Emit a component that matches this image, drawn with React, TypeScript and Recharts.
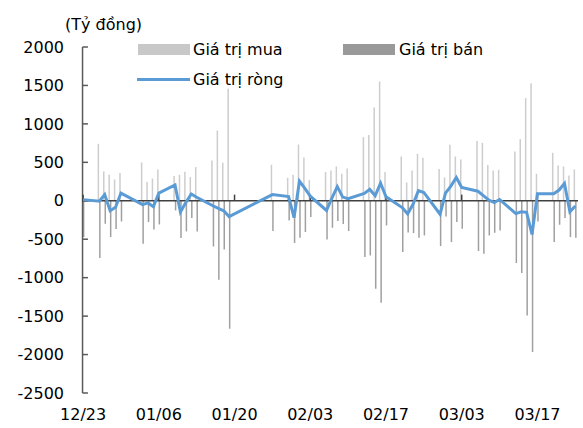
import { Bar, ComposedChart, Line, ReferenceLine, XAxis, YAxis } from "recharts"

const tradingDays = [
    "2022-12-23", "2022-12-26", "2022-12-27", "2022-12-28", "2022-12-29", "2022-12-30",
    "2023-01-03", "2023-01-04", "2023-01-05", "2023-01-06", "2023-01-09", "2023-01-10",
    "2023-01-11", "2023-01-12", "2023-01-13", "2023-01-16", "2023-01-17", "2023-01-18",
    "2023-01-19", "2023-01-27", "2023-01-30", "2023-01-31", "2023-02-01", "2023-02-02",
    "2023-02-03", "2023-02-06", "2023-02-07", "2023-02-08", "2023-02-09", "2023-02-10",
    "2023-02-13", "2023-02-14", "2023-02-15", "2023-02-16", "2023-02-17", "2023-02-20",
    "2023-02-21", "2023-02-22", "2023-02-23", "2023-02-24", "2023-02-27", "2023-02-28",
    "2023-03-01", "2023-03-02", "2023-03-03", "2023-03-06", "2023-03-07", "2023-03-08",
    "2023-03-09", "2023-03-10", "2023-03-13", "2023-03-14", "2023-03-15", "2023-03-16",
    "2023-03-17", "2023-03-20", "2023-03-21", "2023-03-22", "2023-03-23", "2023-03-24",
]

// Giá trị mua
const buyValues = [
    524, 741, 381, 338, 277, 360,
    498, 243, 290, 407, 321, 338,
    377, 308, 438, 524, 914, 494,
    1456, 468, 299, 338, 732, 563,
    269, 373, 394, 446, 351, 420,
    828, 854, 1213, 1551, 373, 576,
    238, 394, 611, 559, 412, 303,
    728, 576, 537, 776, 754, 464,
    394, 403, 641, 802, 1335, 1530,
    351, 624, 459, 446, 329, 407,
]

// Giá trị bán
const sellValues = [
    -472, -745, -299, -472, -368, -269,
    -559, -277, -373, -308, -126, -485,
    -399, -225, -399, -594, -1027, -633,
    -1664, -394, -256, -550, -481, -407,
    -212, -503, -351, -264, -303, -394,
    -732, -711, -1144, -1326, -321, -667,
    -412, -420, -481, -451, -589, -204,
    -537, -277, -364, -654, -689, -451,
    -416, -386, -810, -940, -1491, -1967,
    -269, -537, -312, -225, -472, -481,
]

// Giá trị ròng
const netValues = [
    15, -5, 82, -130, -85, 100,
    -50, -28, -76, 100, 205, -147,
    -22, 88, 45, -65, -100, -130,
    -205, 80, 55, -220, 255, 160,
    60, -126, 35, 185, 48, 26,
    95, 148, 67, 228, 52, -88,
    -170, -45, 132, 108, -175, 100,
    191, 302, 173, 124, 67, 10,
    -22, 17, -167, -143, -150, -438,
    90, 92, 140, 226, -143, -68,
]

const xTicks = [0, 14, 28, 42, 56, 70, 84]
const xTickLabels = ["12/23", "01/06", "01/20", "02/03", "02/17", "03/03", "03/17"]
const yTicks = [-2500, -2000, -1500, -1000, -500, 0, 500, 1000, 1500, 2000]
const xDomain = [-0.2, 91.5]
const yDomain = [-2500, 2000]
// y axis sits a hair inside the left edge of the plot
const yAxisAt = xDomain[0] + 0.1

const startMs = Date.parse(tradingDays[0])
const data = tradingDays.map((d, i) => ({
    day: Math.round((Date.parse(d) - startMs) / 86400000),
    buy: buyValues[i],
    sell: sellValues[i],
    net: netValues[i],
}))

const FONT = "'DejaVu Sans', Verdana, sans-serif"
const BUY_COLOR = "#cdcdcd"
const SELL_COLOR = "#a0a0a0"
const NET_COLOR = "#5b9bd5"
const AXIS_COLOR = "#595959"

const tickStyle = { fontFamily: FONT, fontSize: 16, fill: "#000" }

const ChartLegend = () => {
    const text = { position: "absolute" as const, lineHeight: "16px", whiteSpace: "nowrap" as const }
    return (
        <div style={{ position: "absolute", left: 0, top: 0, fontFamily: FONT, fontSize: 16, color: "#000" }}>
            <div style={{ ...text, left: 65, top: 17 }}>(Tỷ đồng)</div>
            <div style={{ position: "absolute", left: 138, top: 44, width: 52, height: 11, background: "#c8c8c8" }} />
            <div style={{ ...text, left: 193, top: 42 }}>Giá trị mua</div>
            <div style={{ position: "absolute", left: 343, top: 44, width: 52, height: 11, background: "#999" }} />
            <div style={{ ...text, left: 399, top: 42 }}>Giá trị bán</div>
            <div style={{ position: "absolute", left: 137, top: 78, width: 53, height: 3, background: NET_COLOR }} />
            <div style={{ ...text, left: 193, top: 72 }}>Giá trị ròng</div>
        </div>
    )
}

const App = () => {
    return (
        <div style={{ position: "absolute", left: 0, top: 0, width: 583, height: 428, background: "#fff" }}>
            <ComposedChart
                width={583}
                height={428}
                data={data}
                margin={{ top: 47, right: 5, bottom: 0, left: 0 }}
                barGap={0}
            >
                <XAxis
                    dataKey="day"
                    type="number"
                    domain={xDomain}
                    allowDataOverflow
                    ticks={xTicks}
                    tickFormatter={(v: number) => xTickLabels[xTicks.indexOf(v)] ?? ""}
                    axisLine={false}
                    tickLine={false}
                    tickSize={0}
                    tickMargin={16}
                    height={35}
                    tick={tickStyle}
                    interval={0}
                />
                <YAxis
                    type="number"
                    domain={yDomain}
                    ticks={yTicks}
                    width={82}
                    interval={0}
                    tickSize={0}
                    tickMargin={18}
                    axisLine={false}
                    tickLine={false}
                    tick={tickStyle}
                />
                <ReferenceLine x={yAxisAt} stroke={AXIS_COLOR} strokeWidth={1.5} ifOverflow="visible" />
                {yTicks.map((v) => (
                    <ReferenceLine
                        key={`y${v}`}
                        segment={[{ x: yAxisAt, y: v }, { x: yAxisAt + 1, y: v }]}
                        stroke={AXIS_COLOR}
                        strokeWidth={1.5}
                        ifOverflow="visible"
                    />
                ))}
                <Bar dataKey="buy" fill={BUY_COLOR} barSize={1.5} isAnimationActive={false} />
                <Bar dataKey="sell" fill={SELL_COLOR} barSize={1.5} isAnimationActive={false} />
                <ReferenceLine y={0} stroke="#404040" strokeWidth={1.5} />
                {xTicks.map((t) => (
                    <ReferenceLine
                        key={t}
                        segment={[{ x: t, y: 0 }, { x: t, y: 80 }]}
                        stroke="#404040"
                        strokeWidth={1.5}
                    />
                ))}
                <Line
                    dataKey="net"
                    type="linear"
                    stroke={NET_COLOR}
                    strokeWidth={3}
                    dot={false}
                    isAnimationActive={false}
                />
            </ComposedChart>
            <ChartLegend />
        </div>
    )
}

export default App
